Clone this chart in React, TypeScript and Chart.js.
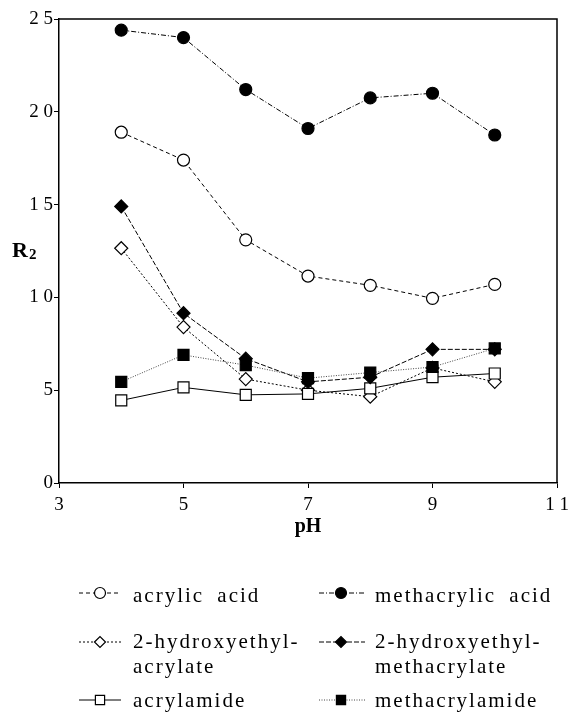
import React, { useEffect, useRef } from "react";
import { Chart, registerables } from "chart.js";

Chart.register(...registerables);

// ---- data ----
const pHValues = [4, 5, 6, 7, 8, 9, 10];
const acrylicAcid = [18.9, 17.4, 13.1, 11.15, 10.65, 9.95, 10.7];
const methacrylicAcid = [24.4, 24.0, 21.2, 19.1, 20.75, 21.0, 18.75];
const hydroxyethylAcrylate = [12.65, 8.4, 5.6, 5.0, 4.65, 6.2, 5.45];
const hydroxyethylMethacrylate = [14.9, 9.15, 6.7, 5.45, 5.7, 7.2, 7.2];
const acrylamide = [4.45, 5.15, 4.75, 4.8, 5.1, 5.7, 5.9];
const methacrylamide = [5.45, 6.9, 6.35, 5.65, 5.95, 6.25, 7.25];
const xTickValues = [3, 5, 7, 9, 11];
const yTickValues = [0, 5, 10, 15, 20, 25];
const xTitle = "pH";
const yTitle = "R";
const yTitleSub = "2";

type Series = {
  name: string[];
  values: number[];
  shape: "circle" | "rectRot" | "rect";
  filled: boolean;
  dash: number[];
  lineColor: string;
};

const series: Series[] = [
  { name: ["acrylic acid"], values: acrylicAcid, shape: "circle", filled: false, dash: [4, 3], lineColor: "#000" },
  { name: ["methacrylic acid"], values: methacrylicAcid, shape: "circle", filled: true, dash: [5, 2, 1, 2], lineColor: "#000" },
  { name: ["2-hydroxyethyl-", "acrylate"], values: hydroxyethylAcrylate, shape: "rectRot", filled: false, dash: [2, 2], lineColor: "#000" },
  { name: ["2-hydroxyethyl-", "methacrylate"], values: hydroxyethylMethacrylate, shape: "rectRot", filled: true, dash: [5, 2], lineColor: "#000" },
  { name: ["acrylamide"], values: acrylamide, shape: "rect", filled: false, dash: [], lineColor: "#000" },
  { name: ["methacrylamide"], values: methacrylamide, shape: "rect", filled: true, dash: [1, 1.5], lineColor: "#444" },
];

// draw order (first = on top)
const drawOrder = [0, 1, 5, 3, 4, 2];

const radiusFor = (shape: string) => (shape === "rect" ? 7.8 : shape === "rectRot" ? 6.5 : 6);

const spaced = (v: number) => String(v).split("").join(" ");

const SERIF = "'Liberation Serif', 'Times New Roman', serif";

function drawMarker(ctx: CanvasRenderingContext2D, shape: string, filled: boolean, x: number, y: number, r: number) {
  ctx.beginPath();
  if (shape === "circle") {
    ctx.arc(x, y, r, 0, Math.PI * 2);
  } else if (shape === "rect") {
    const s = Math.SQRT1_2 * r;
    ctx.rect(x - s, y - s, 2 * s, 2 * s);
  } else {
    ctx.moveTo(x - r, y);
    ctx.lineTo(x, y - r);
    ctx.lineTo(x + r, y);
    ctx.lineTo(x, y + r);
    ctx.closePath();
  }
  ctx.setLineDash([]);
  ctx.fillStyle = filled ? "#000" : "#fff";
  ctx.fill();
  ctx.lineWidth = 1.2;
  ctx.strokeStyle = "#000";
  ctx.stroke();
}

const legendCols = [
  { lineL: 79, lineR: 121, mark: 100, text: 133 },
  { lineL: 319, lineR: 365, mark: 341, text: 375 },
];
const legendRows = [
  { mark: 593, text: [602] },
  { mark: 642, text: [648, 673] },
  { mark: 700, text: [707] },
];

const extrasPlugin = {
  id: "extras",
  afterDraw(chart: any) {
    const ctx: CanvasRenderingContext2D = chart.ctx;
    const a = chart.chartArea;
    ctx.save();
    // frame top + right
    ctx.setLineDash([]);
    ctx.strokeStyle = "#000";
    ctx.lineWidth = 1.5;
    ctx.beginPath();
    ctx.moveTo(a.left, a.top);
    ctx.lineTo(a.right, a.top);
    ctx.lineTo(a.right, a.bottom);
    ctx.stroke();

    // axis titles
    ctx.fillStyle = "#000";
    ctx.textBaseline = "alphabetic";
    ctx.textAlign = "center";
    ctx.font = `bold 20px ${SERIF}`;
    ctx.fillText(xTitle, (a.left + a.right) / 2, 532);
    ctx.textAlign = "left";
    ctx.font = `bold 22px ${SERIF}`;
    ctx.fillText(yTitle, 12, 257);
    const rw = ctx.measureText(yTitle).width;
    ctx.font = `bold 15px ${SERIF}`;
    ctx.fillText(yTitleSub, 12 + rw + 1, 259);

    // legend
    series.forEach((s, i) => {
      const col = legendCols[i % 2];
      const row = legendRows[Math.floor(i / 2)];
      ctx.save();
      ctx.strokeStyle = s.lineColor;
      ctx.lineWidth = 1;
      ctx.setLineDash(s.dash);
      ctx.beginPath();
      ctx.moveTo(col.lineL, row.mark);
      ctx.lineTo(col.lineR, row.mark);
      ctx.stroke();
      ctx.restore();
      drawMarker(ctx, s.shape, s.filled, col.mark, row.mark, s.shape === "rect" ? 6.5 : 5.5);
      ctx.save();
      ctx.fillStyle = "#000";
      ctx.font = `21px ${SERIF}`;
      (ctx as any).letterSpacing = "2px";
      (ctx as any).wordSpacing = "6px";
      ctx.textAlign = "left";
      ctx.textBaseline = "alphabetic";
      s.name.forEach((line, li) => {
        ctx.fillText(line, col.text, row.text[li]);
      });
      ctx.restore();
    });
    ctx.restore();
  },
};

export default function App() {
  const ref = useRef<HTMLCanvasElement | null>(null);
  useEffect(() => {
    if (!ref.current) return;
    const datasets = drawOrder.map((idx) => {
      const s = series[idx];
      return {
        label: s.name.join(""),
        data: pHValues.map((x, i) => ({ x, y: s.values[i] })),
        showLine: true,
        borderColor: s.lineColor,
        borderWidth: 1,
        borderDash: s.dash,
        pointStyle: s.shape,
        pointRadius: radiusFor(s.shape),
        pointHoverRadius: radiusFor(s.shape),
        pointBackgroundColor: s.filled ? "#000" : "#fff",
        pointBorderColor: "#000",
        pointBorderWidth: 1.2,
        tension: 0,
        fill: false,
      };
    });
    const tickFont = { family: SERIF, size: 19 };
    const chart = new Chart(ref.current, {
      type: "scatter",
      data: { datasets },
      plugins: [extrasPlugin],
      options: {
        animation: false,
        responsive: false,
        layout: { padding: { top: 19, right: 11, left: 0, bottom: 0 } },
        plugins: { legend: { display: false }, tooltip: { enabled: false } },
        scales: {
          x: {
            type: "linear",
            min: xTickValues[0],
            max: xTickValues[xTickValues.length - 1],
            afterBuildTicks: (sc: any) => {
              sc.ticks = xTickValues.map((v) => ({ value: v }));
            },
            afterFit: (sc: any) => {
              sc.height = 231;
              sc.paddingLeft = 0;
              sc.paddingRight = 0;
            },
            border: { display: true, color: "#000", width: 1.5 },
            grid: { drawOnChartArea: false, drawTicks: true, tickLength: 5, tickColor: "#000", tickWidth: 1 },
            ticks: { color: "#000", font: tickFont, padding: 6, maxRotation: 0, autoSkip: false, callback: (v: any) => spaced(Number(v)) },
          },
          y: {
            type: "linear",
            min: yTickValues[0],
            max: yTickValues[yTickValues.length - 1],
            afterBuildTicks: (sc: any) => {
              sc.ticks = yTickValues.map((v) => ({ value: v }));
            },
            afterFit: (sc: any) => {
              sc.width = 59;
              sc.paddingTop = 0;
              sc.paddingBottom = 0;
            },
            border: { display: true, color: "#000", width: 1.5 },
            grid: { drawOnChartArea: false, drawTicks: true, tickLength: 5, tickColor: "#000", tickWidth: 1 },
            ticks: { color: "#000", font: tickFont, padding: 1, autoSkip: false, callback: (v: any) => spaced(Number(v)) },
          },
        },
      } as any,
    });
    return () => chart.destroy();
  }, []);
  return (
    <div style={{ position: "absolute", left: 0, top: 0, width: 568, height: 714, background: "#fff" }}>
      <canvas ref={ref} width={568} height={714} style={{ display: "block" }} />
    </div>
  );
}
